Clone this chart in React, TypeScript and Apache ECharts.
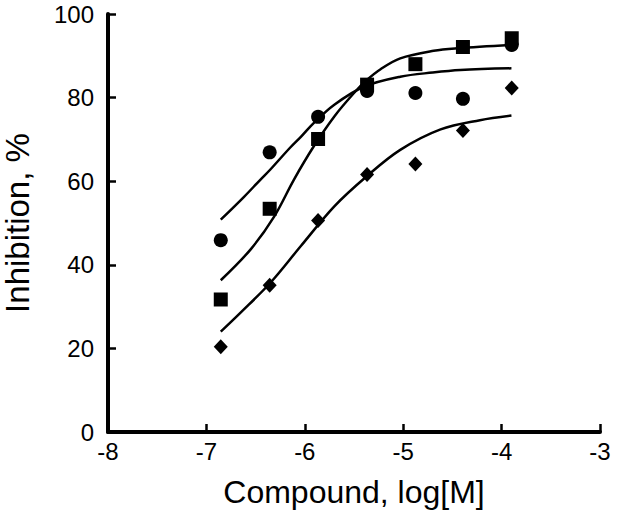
import React, { useEffect, useRef } from "react";
import * as echarts from "echarts";

const doseX = [-6.854, -6.357, -5.865, -5.367, -4.876, -4.393, -3.897];
const circleY = [45.9, 66.9, 75.4, 81.6, 81.1, 79.7, 92.6];
const squareY = [31.7, 53.4, 70.1, 83.1, 88.0, 92.1, 94.2];
const diamondY = [20.4, 35.1, 50.6, 61.6, 64.1, 72.1, 82.3];

const fitAX = [-6.854, -6.62, -6.45, -6.35, -6.15, -6.04, -5.91, -5.7, -5.4, -5.03, -4.7, -4.42, -3.9];
const fitAY = [50.8, 56.2, 60.4, 62.8, 68.0, 70.6, 73.9, 78.3, 82.6, 85.0, 86.0, 86.6, 87.0];
const fitBX = [-6.854, -6.55, -6.31, -6.11, -5.91, -5.7, -5.5, -5.37, -5.23, -5.03, -4.69, -4.45, -3.9];
const fitBY = [36.3, 43.7, 51.6, 60.4, 68.3, 75.5, 81.1, 84.2, 86.8, 89.4, 91.2, 91.8, 92.6];
const fitCX = [-6.854, -6.65, -6.35, -6.04, -5.7, -5.37, -5.03, -4.62, -4.22, -3.9];
const fitCY = [24.0, 28.6, 35.7, 44.5, 54.0, 61.2, 67.5, 72.4, 74.6, 75.7];

const xTicks = { min: -8, max: -3, interval: 1 };
const yTicks = { min: 0, max: 100, interval: 20 };

const pairs = (xs: number[], ys: number[]) => xs.map((x, i) => [x, ys[i]]);

export default function App() {
  const ref = useRef<HTMLDivElement>(null);
  useEffect(() => {
    if (!ref.current) return;
    const chart = echarts.init(ref.current, null, { renderer: "svg" });
    const font = "'Liberation Sans', Arial, sans-serif";
    const fitLine = (xs: number[], ys: number[]) => ({
      type: "line",
      data: pairs(xs, ys),
      smooth: 0.35,
      showSymbol: false,
      symbol: "none",
      lineStyle: { color: "#000", width: 2.5 },
      z: 2,
    });
    const scatter = (ys: number[], symbol: string, size: any) => ({
      type: "scatter",
      data: pairs(doseX, ys),
      symbol,
      symbolSize: size,
      itemStyle: { color: "#000", opacity: 1 },
      z: 3,
    });
    chart.setOption({
      animation: false,
      backgroundColor: "#fff",
      grid: {
        left: 108,
        right: 25,
        top: 14,
        bottom: 79,
        containLabel: false,
        outerBoundsMode: "none",
      },
      xAxis: {
        type: "value",
        ...xTicks,
        name: "Compound, log[M]",
        nameLocation: "middle",
        nameGap: 44,
        nameTextStyle: { fontFamily: font, fontSize: 32, color: "#000" },
        axisLine: { onZero: false, lineStyle: { color: "#000", width: 4 } },
        axisTick: { inside: true, length: 8, lineStyle: { color: "#000", width: 2.5 } },
        axisLabel: { fontFamily: font, fontSize: 24, color: "#000", margin: 7 },
        splitLine: { show: false },
      },
      yAxis: {
        type: "value",
        ...yTicks,
        name: "Inhibition, %",
        nameLocation: "middle",
        nameGap: 74,
        nameTextStyle: { fontFamily: font, fontSize: 33, color: "#000" },
        axisLine: { show: true, onZero: false, lineStyle: { color: "#000", width: 4 } },
        axisTick: { show: true, inside: true, length: 8, lineStyle: { color: "#000", width: 2.5 } },
        axisLabel: { fontFamily: font, fontSize: 24, color: "#000", margin: 14 },
        splitLine: { show: false },
      },
      series: [
        fitLine(fitAX, fitAY),
        fitLine(fitBX, fitBY),
        fitLine(fitCX, fitCY),
        scatter(circleY, "circle", 14),
        scatter(squareY, "rect", 14),
        scatter(diamondY, "diamond", [14, 15]),
      ],
    });
    return () => chart.dispose();
  }, []);
  return <div ref={ref} style={{ width: 625, height: 511, position: "absolute", left: 0, top: 0 }} />;
}
